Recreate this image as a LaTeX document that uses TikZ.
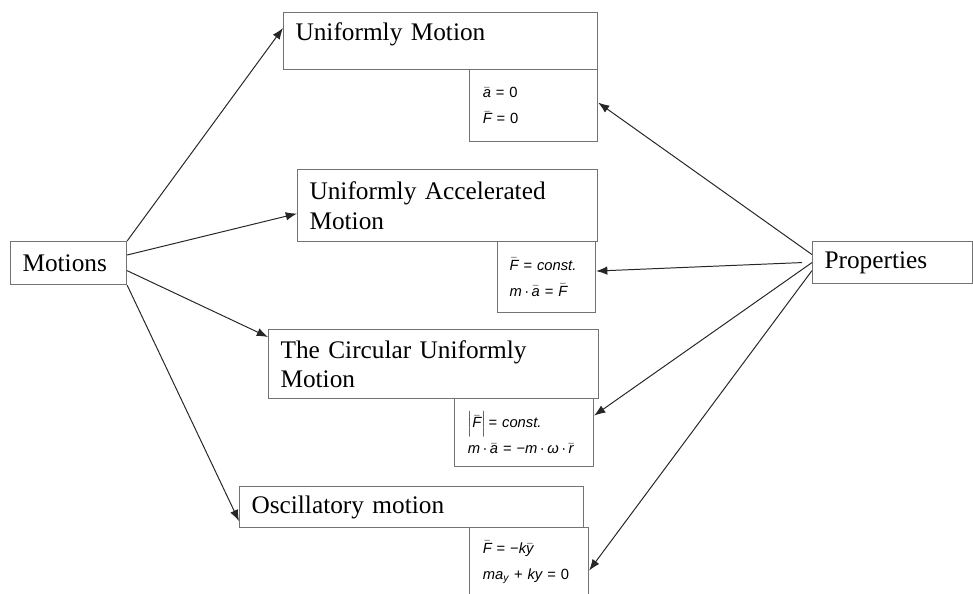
\documentclass[tikz,border=0pt]{standalone}
\usepackage{fontspec}
\setmainfont{Liberation Serif}
\newfontfamily\eqfont{Liberation Sans}
\usetikzlibrary{shapes, arrows, arrows.meta, positioning}
\newcommand{\vecbar}[1]{$\bar{\hbox{\itshape #1}}$}
\tikzstyle{motion} = [draw=black!55, line width=0.8pt, rectangle, anchor=north west, align=left, inner xsep=0.3cm, font=\fontsize{18}{21}\selectfont]
\tikzstyle{law} = [draw=black!55, line width=0.8pt, rectangle, anchor=north west, align=left, inner xsep=0.33cm, font=\eqfont\fontsize{10.5}{18.5}\selectfont]
\tikzstyle{link} = [-{Latex[length=8pt,width=6pt]}, black!85, line width=0.7pt]

\begin{document}
\begin{tikzpicture}
	\clip (0,0) rectangle (24.325,-14.825);
	\node[motion, text width=2.3cm, minimum height=1.075cm] (motions) at (0.25,-6.025) {Motions};
	\node[motion, text width=3.4cm, minimum height=1.05cm] (props) at (20.3,-6.025) {Properties};
	\node[motion, text width=7.25cm, minimum height=1.425cm, text depth=14pt] (uniform) at (7.075,-0.3) {Uniformly Motion};
	\node[motion, text width=6.9cm, minimum height=1.8cm] (accel) at (7.425,-4.225) {Uniformly Accelerated\\Motion};
	\node[motion, text width=7.65cm, minimum height=1.725cm] (circular) at (6.7,-8.225) {The Circular Uniformly\\Motion};
	\node[motion, text width=8.0cm, minimum height=1.025cm] (osc) at (5.975,-12.15) {Oscillatory motion};
	% laws under each motion
	\node[law, text width=2.54cm, minimum height=1.8cm] (lawu) at (11.725,-1.725) {\mbox{\vecbar{a} = 0}\\\mbox{\vecbar{F} = 0}};
	\node[law, text width=1.85cm, inner xsep=0.3cm, minimum height=1.775cm] (lawa) at (12.425,-6.025) {\mbox{\vecbar{F} = {\itshape const.}}\\\mbox{{\itshape m}\,·\,\vecbar{a} = \vecbar{F}}};
	\node[law, text width=2.815cm, minimum height=1.7cm] (lawc) at (11.35,-9.95) {\mbox{$\Big|\bar{\hbox{\itshape F}}\Big|$\,= {\itshape const.}}\\\mbox{{\itshape m}\,·\,\vecbar{a} = −{\itshape m}\,·\,{\itshape ω}\,·\,\vecbar{r}}};
	\node[law, text width=2.315cm, minimum height=1.75cm] (lawo) at (11.725,-13.175) {\mbox{\vecbar{F} = −{\itshape k}\vecbar{y}}\\\mbox{{\itshape ma}\textsubscript{\itshape y} + {\itshape ky} = 0}};
	% arrows
	\draw[link] (motions.north east) -- ([yshift=-0.4cm]uniform.north west);
	\draw[link] ([yshift=-0.35cm]motions.north east) -- ([yshift=-0.2cm]accel.west);
	\draw[link] ([yshift=-0.19cm]motions.east) -- ([yshift=-0.2cm]circular.north west);
	\draw[link] (motions.south east) -- ([yshift=0.175cm]osc.south west);
	\draw[link] ([yshift=0.2cm]props.west) -- ([yshift=0.075cm]lawu.east);
	\draw[link] ([xshift=-0.25cm]props.west) -- ([yshift=0.15cm]lawa.east);
	\draw[link] (props.west) -- ([yshift=0.425cm]lawc.east);
	\draw[link] ([yshift=-0.2cm]props.west) -- ([yshift=-0.2cm]lawo.east);
\end{tikzpicture}
\end{document}
